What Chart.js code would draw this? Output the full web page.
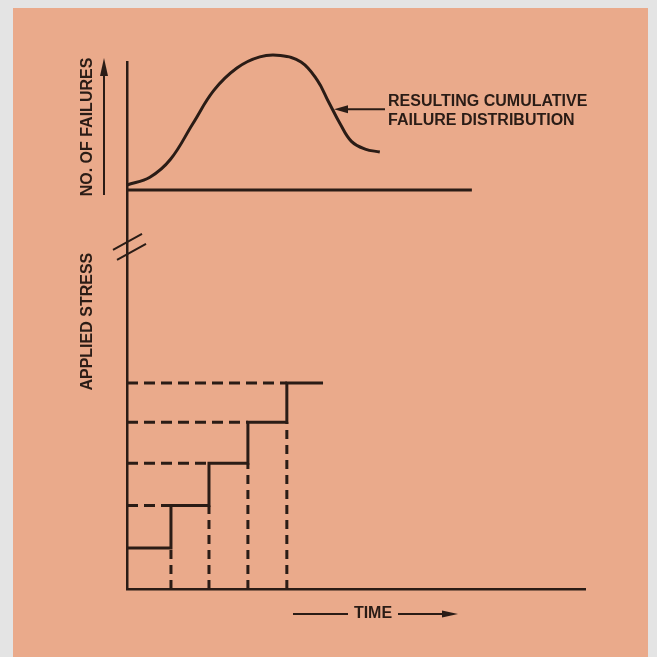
<!DOCTYPE html>
<html>
<head>
<meta charset="utf-8">
<script src="https://cdn.jsdelivr.net/npm/chart.js@4.4.1/dist/chart.umd.min.js"></script>
<style>
  html, body { margin: 0; padding: 0; background: #e4e4e4; }
</style>
</head>
<body>
<canvas id="chart" width="657" height="657"></canvas>
<script>
// valeurs (temps en unités arbitraires 0-100)
const curveTime = [0, 5, 9.5, 14.4, 19, 24, 29, 33.5, 38, 41.5, 44, 46.5, 49, 52, 55.2];
const curveFailures = [3.9, 10, 24, 52, 78, 95.3, 104, 105, 100, 86, 69, 52, 38, 32, 29.7];
const baselineEnd = 75.3;

const stepTimes = [9.6, 17.9, 26.4, 34.9];
const stressLevels = [10.3, 20.9, 31.5, 41.8, 51.6];
const stressEnd = 42.8;

const ink = '#2a1c16';

// courbe de défaillance
const curveData = curveTime.map((t, i) => ({ x: t, y: curveFailures[i] }));

// palier de contrainte
const stepData = [{ x: 0, y: stressLevels[0] }];
stepTimes.forEach((t, i) => stepData.push({ x: t, y: stressLevels[i + 1] }));
stepData.push({ x: stressEnd, y: stressLevels[stressLevels.length - 1] });

// pointillés horizontaux (axe -> palier) et verticaux (sol -> palier)
const hDash = [];
for (let k = 1; k < stressLevels.length; k++) {
  hDash.push({ x: 0, y: stressLevels[k] }, { x: stepTimes[k - 1], y: stressLevels[k] }, { x: 0, y: null });
}
const vDash = [];
stepTimes.forEach((t, k) => {
  vDash.push({ x: t, y: 0 }, { x: t, y: stressLevels[k] }, { x: t, y: null });
});

function arrowHead(c, x, y, dx, dy, len, half) {
  const px = -dy, py = dx;
  c.beginPath();
  c.moveTo(x, y);
  c.lineTo(x - dx * len + px * half, y - dy * len + py * half);
  c.lineTo(x - dx * len - px * half, y - dy * len - py * half);
  c.closePath();
  c.fill();
}

const decor = {
  id: 'decor',
  beforeDraw(chart) {
    const c = chart.ctx;
    c.save();
    c.fillStyle = '#e4e4e4';
    c.fillRect(0, 0, chart.width, chart.height);
    c.fillStyle = '#eaaa8b';
    c.fillRect(13, 8, 635, chart.height - 8);
    c.restore();
  },
  afterDraw(chart) {
    const c = chart.ctx;
    const xs = chart.scales.x, yf = chart.scales.yFail, ys = chart.scales.yStress;
    const x0 = xs.getPixelForValue(0);
    c.save();
    c.fillStyle = ink;
    c.strokeStyle = ink;
    c.font = 'bold 16px "Liberation Sans", Arial, sans-serif';
    c.textBaseline = 'middle';

    // étiquettes verticales
    c.save();
    c.translate(88, (yf.top + yf.bottom) / 2 + 1);
    c.rotate(-Math.PI / 2);
    c.textAlign = 'center';
    c.fillText('NO. OF FAILURES', 0, 0);
    c.restore();

    c.save();
    c.translate(88, ys.getPixelForValue(67));
    c.rotate(-Math.PI / 2);
    c.textAlign = 'center';
    c.fillText('APPLIED STRESS', 0, 0);
    c.restore();

    // flèche de l'axe des défaillances
    c.lineWidth = 2;
    c.beginPath();
    c.moveTo(x0 - 23, yf.bottom + 5);
    c.lineTo(x0 - 23, yf.top + 8);
    c.stroke();
    arrowHead(c, x0 - 23, yf.top - 4, 0, -1, 18, 4);

    // légende de la courbe
    const tipX = xs.getPixelForValue(45.2), tipY = yf.getPixelForValue(63);
    c.textAlign = 'left';
    c.fillText('RESULTING CUMULATIVE', 388, 102);
    c.fillText('FAILURE DISTRIBUTION', 388, 121);
    c.beginPath();
    c.moveTo(385, tipY);
    c.lineTo(tipX + 10, tipY);
    c.stroke();
    arrowHead(c, tipX, tipY, -1, 0, 14, 4);

    // marque de rupture d'axe
    c.lineWidth = 2;
    const by = ys.getPixelForValue(86);
    c.beginPath();
    c.moveTo(x0 - 14, by + 4); c.lineTo(x0 + 15, by - 12);
    c.moveTo(x0 - 10, by + 14); c.lineTo(x0 + 19, by - 2);
    c.stroke();

    // TIME
    const ty = xs.top + 25;
    c.textAlign = 'center';
    c.fillText('TIME', 373, ty);
    c.lineWidth = 2;
    c.beginPath();
    c.moveTo(293, ty); c.lineTo(348, ty);
    c.moveTo(398, ty); c.lineTo(450, ty);
    c.stroke();
    arrowHead(c, 458, ty, 1, 0, 16, 3.5);
    c.restore();
  }
};

const ctx = document.getElementById('chart');
const chart = new Chart(ctx, {
  type: 'line',
  data: {
    datasets: [
      { data: curveData, yAxisID: 'yFail', borderColor: ink, borderWidth: 3, tension: 0.4, clip: false },
      { data: [{ x: 0, y: 0 }, { x: baselineEnd, y: 0 }], yAxisID: 'yFail', borderColor: ink, borderWidth: 3, clip: false },
      { data: stepData, yAxisID: 'yStress', borderColor: ink, borderWidth: 3, stepped: true },
      { data: hDash, yAxisID: 'yStress', borderColor: ink, borderWidth: 3, borderDash: [11, 6], spanGaps: false },
      { data: vDash, yAxisID: 'yStress', borderColor: ink, borderWidth: 3, borderDash: [9, 6], spanGaps: false },
    ]
  },
  options: {
    responsive: false,
    animation: false,
    events: [],
    layout: { padding: { left: 119, right: 72, top: 62, bottom: 60 } },
    elements: { point: { radius: 0 }, line: { borderCapStyle: 'butt' } },
    plugins: { legend: { display: false }, tooltip: { enabled: false } },
    scales: {
      x: {
        type: 'linear', min: 0, max: 100,
        grid: { display: false }, ticks: { display: false },
        border: { display: true, color: ink, width: 2.5 }
      },
      yFail: {
        type: 'linear', position: 'left', stack: 'axes', stackWeight: 128, weight: 1,
        min: 0, max: 100,
        grid: { display: false }, ticks: { display: false },
        border: { display: true, color: ink, width: 2.5 }
      },
      yStress: {
        type: 'linear', position: 'left', stack: 'axes', stackWeight: 399, weight: 0,
        min: 0, max: 100,
        grid: { display: false }, ticks: { display: false },
        border: { display: true, color: ink, width: 2.5 }
      }
    }
  },
  plugins: [decor]
});
</script>
</body>
</html>
